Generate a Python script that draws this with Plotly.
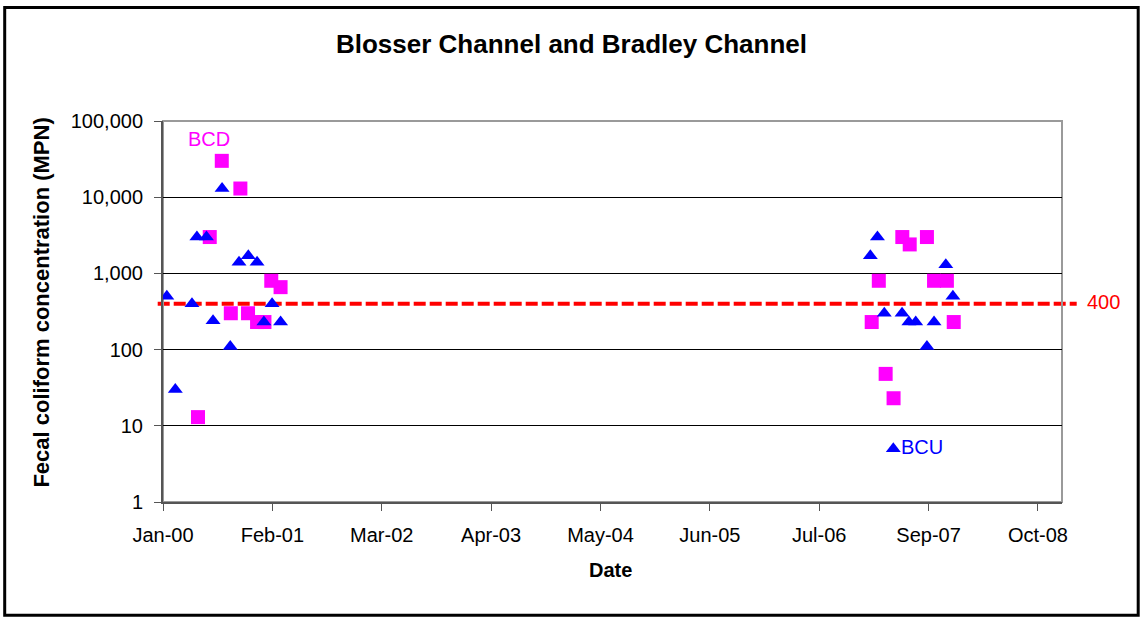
import plotly.graph_objects as go

# BCU (Blosser Channel upstream) - blue triangles
bcu_dates = [
    "2000-01-15", "2000-02-15", "2000-04-16", "2000-05-04", "2000-06-08",
    "2000-07-02", "2000-08-04", "2000-09-03", "2000-10-05", "2000-11-08",
    "2000-12-10", "2001-01-04", "2001-02-03", "2001-03-06",
    "2007-01-31", "2007-02-26", "2007-03-23", "2007-04-25", "2007-05-27",
    "2007-06-21", "2007-07-16", "2007-08-26", "2007-09-21", "2007-11-03",
    "2007-11-29",
]
bcu_values = [
    500, 30, 400, 3000, 3000,
    240, 13000, 110, 1400, 1700,
    1400, 230, 400, 230,
    1700, 3000, 300, 5, 300,
    230, 230, 110, 230, 1300,
    500,
]

# BCD (Bradley Channel downstream) - magenta squares
bcd_dates = [
    "2000-05-08", "2000-06-20", "2000-08-03", "2000-09-05", "2000-10-10",
    "2000-11-07", "2000-12-10", "2001-01-06", "2001-01-31", "2001-03-06",
    "2007-02-05", "2007-03-03", "2007-03-28", "2007-04-26", "2007-05-28",
    "2007-06-24", "2007-08-26", "2007-09-21", "2007-11-07", "2007-12-02",
]
bcd_values = [
    13, 3000, 30000, 300, 13000,
    300, 230, 230, 800, 660,
    230, 800, 48, 23, 3000,
    2400, 3000, 800, 800, 230,
]

standard = 400
y_tickvals = [1, 10, 100, 1000, 10000, 100000]
y_ticktext = ["1", "10", "100", "1,000", "10,000", "100,000"]

FONT = "Liberation Sans, Arial, sans-serif"
W, H = 1143, 620
# plot area in pixels
L, R, T, B = 163.3, 1062.3, 120.7, 502.5


def px_x(x):
    return (x - L) / (R - L)


def px_y(y):
    return (B - y) / (B - T)


def label(text, x, y, size, color, **kw):
    d = dict(text=text, xref="paper", yref="paper", x=px_x(x), y=px_y(y),
             xanchor="center", yanchor="middle", showarrow=False,
             font=dict(family=FONT, size=size, color=color))
    d.update(kw)
    return d


fig = go.Figure()

fig.add_trace(go.Scatter(
    x=bcd_dates, y=bcd_values, mode="markers", name="BCD",
    marker=dict(symbol="square", size=14, color="#FF00FF"),
))
fig.add_trace(go.Scatter(
    x=bcu_dates, y=bcu_values, mode="markers", name="BCU",
    marker=dict(symbol="triangle-up", size=13, color="#0000FF"),
))

shapes = [
    # 400 MPN standard line
    dict(type="line", xref="paper", yref="y", layer="below",
         x0=px_x(158), x1=px_x(1077), y0=standard, y1=standard,
         line=dict(color="#FF0000", width=4, dash="12px,4px")),
    # plot area frame (top/right)
    dict(type="rect", xref="paper", yref="paper", layer="below",
         x0=0, x1=1, y0=0, y1=1, line=dict(color="#9a9a9a", width=2)),
    # outer chart border
    dict(type="rect", xref="paper", yref="paper",
         x0=px_x(5), x1=px_x(1138.5), y0=px_y(616), y1=px_y(7),
         line=dict(color="black", width=3)),
]

annotations = [
    label("400", 1104, 302, 20, "#FF0000"),
    label("BCD", 209, 139, 20, "#FF00FF"),
    label("BCU", 899, 447, 20, "#0000FF", xanchor="left"),
    label("<b>Fecal coliform concentration (MPN)</b>", 42, 303, 22, "black",
          textangle=-90),
    label("<b>Date</b>", 611, 571, 20, "black"),
]

fig.update_layout(
    width=W, height=H,
    margin=dict(l=L, r=W - R, t=T, b=H - B),
    paper_bgcolor="white", plot_bgcolor="white",
    showlegend=False,
    font=dict(family=FONT, size=20, color="black"),
    title=dict(text="<b>Blosser Channel and Bradley Channel</b>",
               x=0.5, xanchor="center", y=1 - 44 / H, yanchor="middle",
               font=dict(family=FONT, size=26, color="black")),
    shapes=shapes,
    annotations=annotations,
)

fig.update_xaxes(
    type="date",
    range=["2000-01-01", "2009-01-01"],
    tick0="2000-01-01", dtick=400 * 86400000,
    tickformat="%b-%y",
    showgrid=False, zeroline=False,
    showline=True, linecolor="#555555", linewidth=2,
    ticks="outside", ticklen=7, tickcolor="#555555", tickwidth=1,
    ticklabelstandoff=7,
    tickfont=dict(family=FONT, size=20, color="black"),
)
fig.update_yaxes(
    type="log", range=[0, 5],
    tickvals=y_tickvals, ticktext=y_ticktext,
    showgrid=True, gridcolor="black", gridwidth=1,
    zeroline=False,
    showline=True, linecolor="#555555", linewidth=2,
    ticks="outside", ticklen=7, tickcolor="#555555", tickwidth=1,
    ticklabelstandoff=7,
    tickfont=dict(family=FONT, size=20, color="black"),
)

fig.write_html("out.html", config={"displayModeBar": False},
               post_script="document.body.style.margin='0';")
